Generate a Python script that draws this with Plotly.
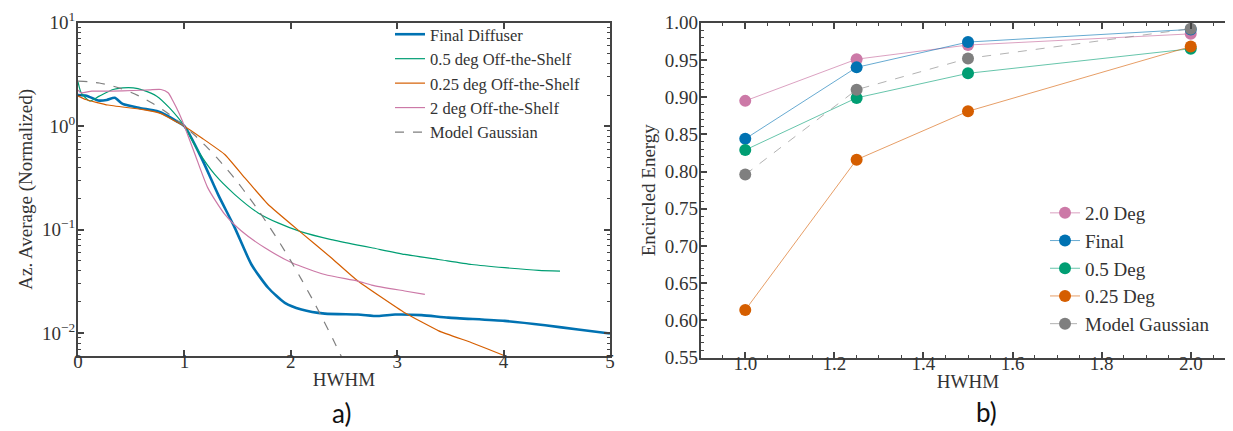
import plotly.graph_objects as go

# ---------------- Left panel (a): azimuthal averages ----------------
final_x = [0.0, 0.08, 0.19, 0.27, 0.345, 0.42, 0.58, 0.74, 0.83, 0.925, 1.0, 1.16, 1.317,
           1.474, 1.63, 1.787, 1.944, 2.10, 2.32, 2.63, 2.82, 2.98, 3.23, 3.48, 4.01, 4.39, 4.70, 5.0]
final_y = [2.0, 1.97, 1.77, 1.79, 1.88, 1.64, 1.50, 1.40, 1.28, 1.12, 1.0, 0.494, 0.218,
           0.104, 0.046, 0.0274, 0.0196, 0.0169, 0.0154, 0.0151, 0.0146, 0.0151, 0.0149, 0.0141,
           0.0131, 0.0119, 0.0108, 0.0099]

half_x = [0.0, 0.03, 0.11, 0.20, 0.33, 0.42, 0.52, 0.61, 0.74, 0.86, 1.0, 1.13, 1.285, 1.474,
          1.693, 1.88, 2.10, 2.38, 2.63, 2.76, 3.07, 3.39, 3.70, 4.01, 4.33, 4.53]
half_y = [2.68, 2.1, 1.75, 1.95, 2.26, 2.34, 2.34, 2.23, 1.95, 1.50, 1.0, 0.573, 0.341, 0.218,
          0.145, 0.116, 0.095, 0.080, 0.0708, 0.0667, 0.0575, 0.0514, 0.046, 0.0428, 0.0403, 0.0397]

quarter_x = [0.0, 0.07, 0.28, 0.6, 0.78, 0.91, 1.0, 1.17, 1.38, 1.568, 1.787, 2.10, 2.38, 2.63,
             3.07, 3.39, 3.70, 3.98, 4.05]
quarter_y = [1.95, 1.81, 1.60, 1.45, 1.32, 1.12, 1.0, 0.76, 0.532, 0.316, 0.175, 0.093, 0.0534,
             0.0318, 0.0157, 0.0105, 0.00806, 0.0062, 0.0058]

two_x = [0.0, 0.03, 0.13, 0.32, 0.52, 0.67, 0.78, 0.847, 0.894, 0.95, 1.0, 1.10, 1.22, 1.38,
         1.536, 1.756, 2.01, 2.32, 2.63, 2.76, 3.07, 3.26]
two_y = [2.23, 2.1, 2.18, 2.18, 2.21, 2.24, 2.26, 2.10, 1.74, 1.33, 1.0, 0.532, 0.253, 0.140,
         0.0968, 0.0667, 0.0478, 0.0368, 0.0318, 0.0291, 0.0255, 0.0236]

model_x = [0.0, 0.1, 0.2, 0.3, 0.4, 0.5, 0.6, 0.7, 0.8, 0.9, 1.0, 1.1, 1.2, 1.3, 1.4, 1.5,
           1.6, 1.7, 1.8, 1.9, 2.0, 2.1, 2.2, 2.3, 2.4, 2.5]
model_y = [2.718, 2.691, 2.612, 2.484, 2.316, 2.117, 1.896, 1.665, 1.433, 1.209, 1.0, 0.811,
           0.644, 0.502, 0.383, 0.287, 0.210, 0.151, 0.106, 0.0735, 0.0498, 0.0330, 0.0215,
           0.0137, 0.00857, 0.00525]

log_tickvals = [10, 1, 0.1, 0.01]
log_ticktext = ["10<sup>1</sup>", "10<sup>0</sup>", "10<sup>\u22121</sup>", "10<sup>\u22122</sup>"]

# ---------------- Right panel (b): encircled energy ----------------
hwhm = [1.0, 1.25, 1.5, 2.0]
ee_2deg = [0.895, 0.951, 0.970, 0.985]
ee_final = [0.844, 0.940, 0.974, 0.991]
ee_half = [0.829, 0.899, 0.932, 0.965]
ee_quarter = [0.614, 0.816, 0.881, 0.968]
ee_model = [0.796, 0.910, 0.952, 0.992]

BLUE = "#0072B2"
GREEN = "#009E73"
ORANGE = "#D55E00"
PINK = "#CC79A7"
GRAY = "#7f7f7f"
AXC = "#444444"
SERIF = "Liberation Serif"

fig = go.Figure()

left_series = [
    ("Final Diffuser", final_x, final_y, BLUE, 2.6, "solid", 0.6),
    ("0.5 deg Off-the-Shelf", half_x, half_y, GREEN, 1.2, "solid", 0.6),
    ("0.25 deg Off-the-Shelf", quarter_x, quarter_y, ORANGE, 1.2, "solid", 0.35),
    ("2 deg Off-the-Shelf", two_x, two_y, PINK, 1.2, "solid", 0.6),
    ("Model Gaussian", model_x, model_y, GRAY, 1.2, "dash", 0.6),
]
for name, xs, ys, col, w, dash, sm in left_series:
    fig.add_trace(go.Scatter(
        x=xs, y=ys, mode="lines", name=name,
        line=dict(color=col, width=w, dash=dash, shape="spline", smoothing=sm),
        xaxis="x", yaxis="y", legend="legend"))

right_series = [
    ("2.0 Deg", ee_2deg, PINK, "rgba(204,121,167,0.7)", "solid"),
    ("Final", ee_final, BLUE, "rgba(0,114,178,0.6)", "solid"),
    ("0.5 Deg", ee_half, GREEN, "rgba(0,158,115,0.6)", "solid"),
    ("0.25 Deg", ee_quarter, ORANGE, "rgba(213,94,0,0.6)", "solid"),
    ("Model Gaussian", ee_model, GRAY, "rgba(127,127,127,0.6)", "dash"),
]
for name, ys, mcol, lcol, dash in right_series:
    fig.add_trace(go.Scatter(
        x=hwhm, y=ys, mode="lines+markers", name=name,
        line=dict(color=lcol, width=1, dash=dash),
        marker=dict(color=mcol, size=12, line=dict(width=0)),
        xaxis="x2", yaxis="y2", legend="legend2"))

W, H = 1233, 431
tickfont = dict(family=SERIF, size=19, color="#333333")
titlefont = dict(family=SERIF, size=19, color="#333333")

common = dict(showline=True, linecolor=AXC, linewidth=2, mirror="ticks", ticks="inside",
              tickcolor=AXC, tickwidth=1.5, ticklen=6, showgrid=False, zeroline=False,
              tickfont=tickfont, automargin=False)
xcommon = dict(ticklabelstandoff=-13, **common)
ycommon = dict(ticklabelstandoff=-3, **common)

fig.update_layout(
    width=W, height=H,
    margin=dict(l=0, r=0, t=0, b=0),
    paper_bgcolor="white", plot_bgcolor="white",
    font=dict(family=SERIF, color="#333333"),
    xaxis=dict(domain=[70 / W, 602 / W], anchor="y", range=[0, 5], dtick=1, tick0=0,
               title=dict(text="HWHM", font=titlefont, standoff=2), **xcommon),
    yaxis=dict(domain=[83 / H, 1 - 14.7 / H], anchor="x", type="log",
               range=[-2.222, 1], tickmode="array", tickvals=log_tickvals, ticktext=log_ticktext,
               minor=dict(ticks="inside", ticklen=3, tickcolor=AXC, tickmode="linear",
                          dtick="D1", tickwidth=1),
               title=dict(text="Az. Average (Normalized)", font=titlefont, standoff=4), **ycommon),
    xaxis2=dict(domain=[692.7 / W, 1227.3 / W], anchor="y2", range=[0.9, 2.1], dtick=0.2,
                tick0=0, tickformat=".1f",
                minor=dict(ticks="inside", ticklen=3, tickcolor=AXC, dtick=0.05, tickwidth=1),
                title=dict(text="HWHM", font=titlefont, standoff=2), **xcommon),
    yaxis2=dict(domain=[81.3 / H, 1 - 14.7 / H], anchor="x2", range=[0.55, 1.0], dtick=0.05,
                tick0=0, tickformat=".2f",
                minor=dict(ticks="inside", ticklen=3, tickcolor=AXC, dtick=0.01, tickwidth=1),
                title=dict(text="Encircled Energy", font=titlefont, standoff=4), **ycommon),
    legend=dict(x=382 / W, y=1 - 9 / H, xanchor="left", yanchor="top",
                bgcolor="rgba(255,255,255,0)", borderwidth=0,
                font=dict(family=SERIF, size=16.5, color="#333333")),
    legend2=dict(x=1037 / W, y=1 - 186 / H, xanchor="left", yanchor="top",
                 bgcolor="rgba(255,255,255,0)", borderwidth=0,
                 font=dict(family=SERIF, size=19, color="#333333")),
    annotations=[
        dict(text="a)", x=333 / W, y=1 - 405 / H, xref="paper", yref="paper",
             xanchor="center", yanchor="middle",
             showarrow=False, font=dict(family="Lato", size=26, color="#111111")),
        dict(text="b)", x=978 / W, y=1 - 404 / H, xref="paper", yref="paper",
             xanchor="center", yanchor="middle",
             showarrow=False, font=dict(family="Lato", size=26, color="#111111")),
    ],
)

fig.write_html("out.html")
